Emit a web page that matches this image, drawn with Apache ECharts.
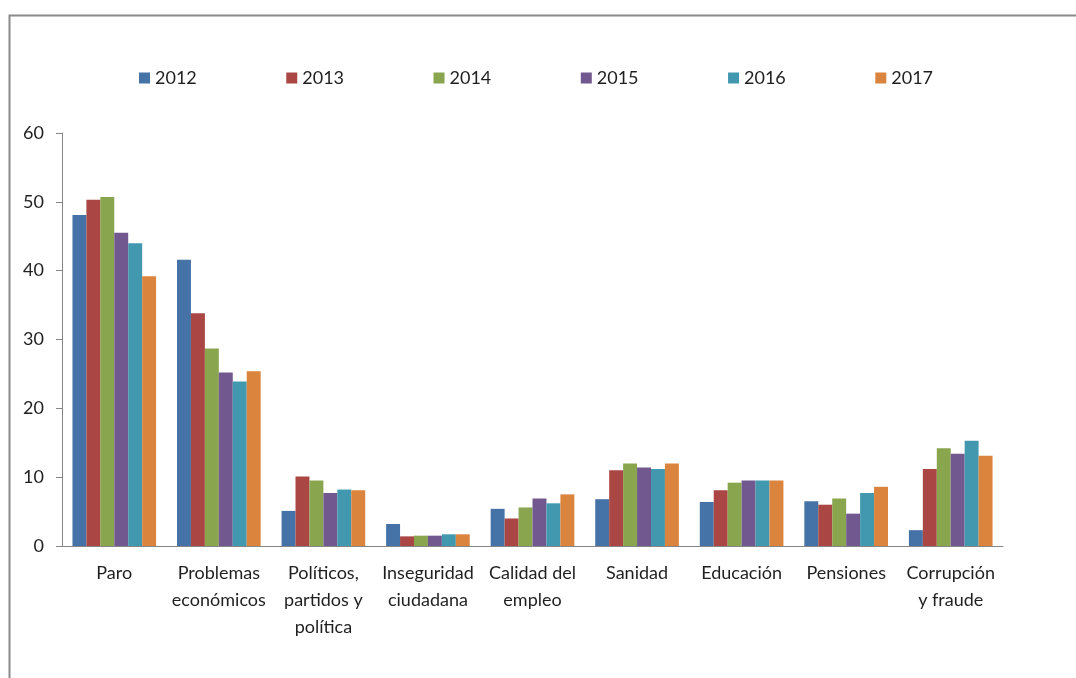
<!DOCTYPE html>
<html>
<head>
<meta charset="utf-8">
<script src="https://cdn.jsdelivr.net/npm/echarts@6/dist/echarts.min.js"></script>
<style>
html,body{margin:0;padding:0;background:#fff;}
#c{width:1076px;height:678px;}
</style>
</head>
<body>
<div id="c"></div>
<script>
const categories = ['Paro', 'Problemas\neconómicos', 'Políticos,\npartidos y\npolítica', 'Inseguridad\nciudadana', 'Calidad del\nempleo', 'Sanidad', 'Educación', 'Pensiones', 'Corrupción\ny fraude'];
const years = ['2012', '2013', '2014', '2015', '2016', '2017'];
const v2012 = [48.1, 41.6, 5.1, 3.2, 5.4, 6.8, 6.4, 6.5, 2.3];
const v2013 = [50.3, 33.8, 10.1, 1.4, 4.0, 11.0, 8.1, 6.0, 11.2];
const v2014 = [50.7, 28.7, 9.5, 1.5, 5.6, 12.0, 9.2, 6.9, 14.2];
const v2015 = [45.5, 25.2, 7.7, 1.5, 6.9, 11.4, 9.5, 4.7, 13.4];
const v2016 = [44.0, 23.9, 8.2, 1.7, 6.2, 11.2, 9.5, 7.7, 15.3];
const v2017 = [39.2, 25.4, 8.1, 1.7, 7.5, 12.0, 9.5, 8.6, 13.1];
const yTicks = [0, 10, 20, 30, 40, 50, 60];
const colors = ['#4572A7', '#AA4643', '#89A54E', '#71588F', '#4198AF', '#DB843D'];
const allValues = [v2012, v2013, v2014, v2015, v2016, v2017];

const font = 'Lato, "Open Sans", sans-serif';
const chart = echarts.init(document.getElementById('c'));
chart.setOption({
  animation: false,
  color: colors,
  graphic: [{
    type: 'rect', left: 7, top: 13,
    shape: {width: 1200, height: 800},
    style: {fill: 'none', stroke: '#8a8a8a', lineWidth: 2}
  }],
  legend: {
    top: 64, left: 134,
    itemWidth: 11, itemHeight: 11, itemGap: 89.5,
    icon: 'rect',
    textStyle: {fontFamily: font, fontSize: 18, color: '#1f1f1f'},
    data: years
  },
  grid: {left: 62, right: 73, top: 133, bottom: 132},
  xAxis: {
    type: 'category',
    data: categories,
    axisLine: {lineStyle: {color: '#868686', width: 1}},
    axisTick: {length: 6, lineStyle: {color: '#868686'}},
    axisLabel: {fontFamily: font, fontSize: 18, color: '#1f1f1f', lineHeight: 27, margin: 14, interval: 0}
  },
  yAxis: {
    type: 'value',
    min: yTicks[0], max: yTicks[yTicks.length - 1], interval: 10,
    splitLine: {show: false},
    axisLine: {show: true, lineStyle: {color: '#868686', width: 1}},
    axisTick: {show: true, length: 6, lineStyle: {color: '#868686'}},
    axisLabel: {fontFamily: font, fontSize: 18, color: '#1f1f1f', margin: 18}
  },
  series: years.map((y, i) => ({
    name: y,
    type: 'bar',
    data: allValues[i],
    barGap: '0%',
    barCategoryGap: '20%'
  }))
});
</script>
</body>
</html>
